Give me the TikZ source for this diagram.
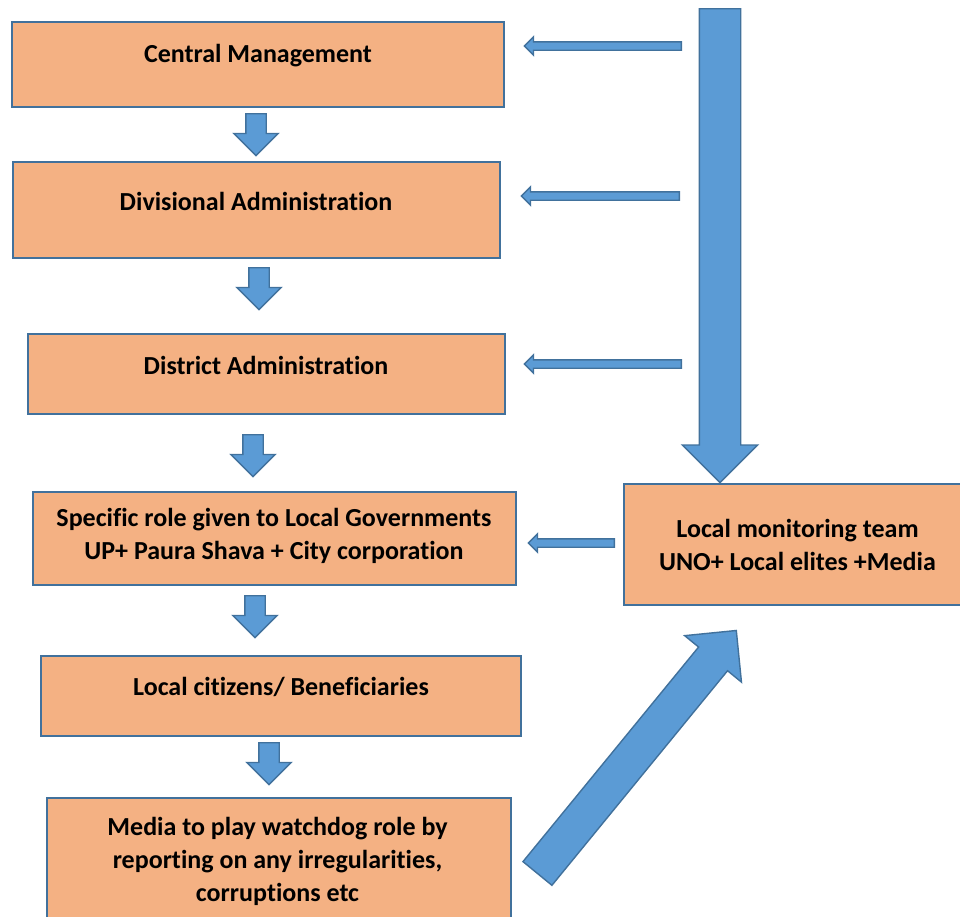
\documentclass[tikz,border=0pt]{standalone}
\usepackage{fontspec}
\setmainfont{Carlito}[Ligatures=NoCommon,Contextuals=NoAlternate,RawFeature={-liga;-clig;-calt;-dlig}]
\usetikzlibrary{positioning,shapes.arrows}
\definecolor{boxfill}{HTML}{F4B183}
\definecolor{boxline}{HTML}{41719C}
\definecolor{arrowfill}{HTML}{5B9BD5}
\definecolor{arrowline}{HTML}{41719C}
\tikzset{
  box/.style={rectangle, draw=boxline, fill=boxfill, line width=1pt, inner sep=0pt},
  txt/.style={font=\bfseries\fontsize{13}{16.5}\selectfont, align=center, inner sep=0pt},
  blockarrow/.style={single arrow, draw=arrowline, fill=arrowfill, line width=0.7pt,
    inner sep=0pt, minimum width=0pt, single arrow tip angle=90},
  downarrow/.style={blockarrow, rotate=-90, minimum height=21pt, inner ysep=4.75pt,
    single arrow head extend=6pt},
  leftarrow/.style={blockarrow, rotate=180, inner ysep=1.75pt, single arrow head extend=2.5pt}
}

\begin{document}
\begin{tikzpicture}[x=0.5pt,y=-0.5pt]
  \clip (0,0) rectangle (960,917);
  % boxes of the chain
  \node[box, minimum width=246pt, minimum height=42.5pt] (cm) at (258,64.5) {};
  \node[box, minimum width=243.5pt, minimum height=48pt] (da) at (256.5,210) {};
  \node[box, minimum width=238.5pt, minimum height=40pt] (dis) at (266.5,374) {};
  \node[box, minimum width=241.5pt, minimum height=46.5pt] (lg) at (274.5,538.5) {};
  \node[box, minimum width=240pt, minimum height=40pt] (lc) at (281,696) {};
  \node[box, minimum width=232pt, minimum height=71pt] (md) at (279,869) {};
  \node[box, minimum width=178pt, minimum height=60.5pt] (lm) at (802,544.5) {};
  % texts
  \node[txt] (cmt) at (258,56) {Central Management};
  \node[txt] (dat) at (256,201) {Divisional Administration};
  \node[txt] (dist) at (266,365) {District Administration};
  \node[txt] (lgt) at (274,536) {Specific role given to Local Governments\\UP+ Paura Shava + City corporation};
  \node[txt] (lct) at (281,687) {Local citizens/ Beneficiaries};
  \node[txt] (mdt) at (277.5,861) {Media to play watchdog role by\\reporting on any irregularities,\\corruptions etc};
  \node[txt] (lmt) at (797.5,545) {Local monitoring team\\UNO+ Local elites +Media};
  % down arrows between boxes
  \node[downarrow, anchor=tail] (a1) at (256,113) {};
  \node[downarrow, anchor=tail] (a2) at (259,267) {};
  \node[downarrow, anchor=tail] (a3) at (253,434) {};
  \node[downarrow, anchor=tail] (a4) at (255,595) {};
  \node[downarrow, anchor=tail] (a5) at (269,742) {};
  % arrows from the monitoring side
  \node[leftarrow, anchor=tail, minimum height=78.5pt] (l1) at (682,46) {};
  \node[leftarrow, anchor=tail, minimum height=79pt] (l2) at (680,196) {};
  \node[leftarrow, anchor=tail, minimum height=78.5pt] (l3) at (682,364) {};
  \node[leftarrow, anchor=tail, minimum height=43pt] (l4) at (615,543) {};
  \node[blockarrow, rotate=-90, anchor=tail, minimum height=237pt, inner ysep=10pt,
    single arrow head extend=8.5pt] (big) at (720,8) {};
  \node[blockarrow, rotate=50.7, anchor=tail, minimum height=157pt, inner ysep=9pt,
    single arrow head extend=9pt] (diag) at (537,874) {};
\end{tikzpicture}
\end{document}
